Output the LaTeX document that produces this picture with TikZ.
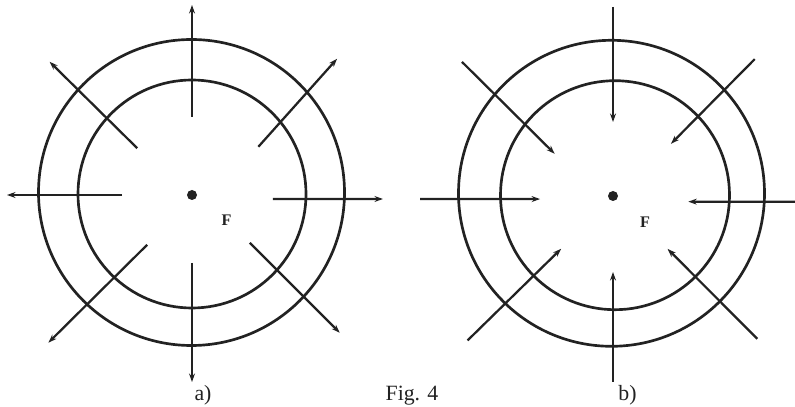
\documentclass[tikz,border=0pt]{standalone}
\usepackage{fontspec}
\setmainfont{Liberation Serif}
\usepackage{tikz}
\usetikzlibrary{arrows.meta,positioning,calc}
\definecolor{figInk}{HTML}{222222}
\definecolor{figPaper}{HTML}{FFFFFF}

\tikzset{
  ring/.style={draw=figInk,line width=1.9pt},
  ray/.style={draw=figInk,line width=1.6pt,
              -{Stealth[length=6pt,width=4.2pt]}},
  focus/.style={circle,fill=figInk,inner sep=0pt,minimum size=0.25cm},
  focuslabel/.style={text=figInk,font=\fontsize{11.5}{13}\selectfont\bfseries},
  caption/.style={text=figInk,anchor=base,font=\fontsize{15.5}{18}\selectfont}
}

\begin{document}
\begin{tikzpicture}[x=0.025cm,y=0.025cm]
  \fill[figPaper] (0,0) rectangle (795,407);
  \useasboundingbox (0,0) rectangle (795,407);

  % a) rays leaving the focus
  \node[focus] (Fa) at (192,212) {};
  \node[focuslabel] (Fa-label) at (226.5,187) {F};
  \coordinate (ringA-out) at (191.5,214.5);
  \coordinate (ringA-in) at (192,213);
  \draw[ring] (ringA-out) circle[radius=153];
  \draw[ring] (ringA-in) circle[radius=114];
  \foreach \ai/\ri/\ao/\ro [count=\i] in
    {90/78/90/190, 139.5/72/136.9/195, 180/70/180/185, 228/67/225.8/206,
     270/68/270/187, 320.4/75/317/202, 357.2/81/358.8/191, 36/82/43.2/199} {
    \coordinate (a-in-\i) at ($(Fa)+(\ai:\ri)$);
    \coordinate (a-out-\i) at ($(Fa)+(\ao:\ro)$);
    \draw[ray] (a-in-\i) -- (a-out-\i);
  }

  % b) rays coming to the focus
  \node[focus] (Fb) at (613,211) {};
  \node[focuslabel] (Fb-label) at (645,184.5) {F};
  \coordinate (ringB-out) at (611.5,213.7);
  \coordinate (ringB-in) at (615,211.8);
  \draw[ring] (ringB-out) circle[radius=153];
  \draw[ring] (ringB-in) circle[radius=114.5];
  \foreach \ao/\ro/\ai/\ri [count=\i] in
    {90/189/90/74, 138.4/202/144.1/72, 180.9/193/182.4/73, 224.8/205/225.5/74,
     270/186/270/76, 315.3/203/315.9/76, 358.2/182/355.7/75.5, 44/197/42/78} {
    \coordinate (b-out-\i) at ($(Fb)+(\ao:\ro)$);
    \coordinate (b-in-\i) at ($(Fb)+(\ai:\ri)$);
    \draw[ray] (b-out-\i) -- (b-in-\i);
  }

  % captions
  \node[caption] (cap-a) at (203,6) {a)};
  \node[caption] (cap-fig) at (412,6) {Fig. 4};
  \node[caption] (cap-b) at (627.5,6) {b)};
\end{tikzpicture}
\end{document}
